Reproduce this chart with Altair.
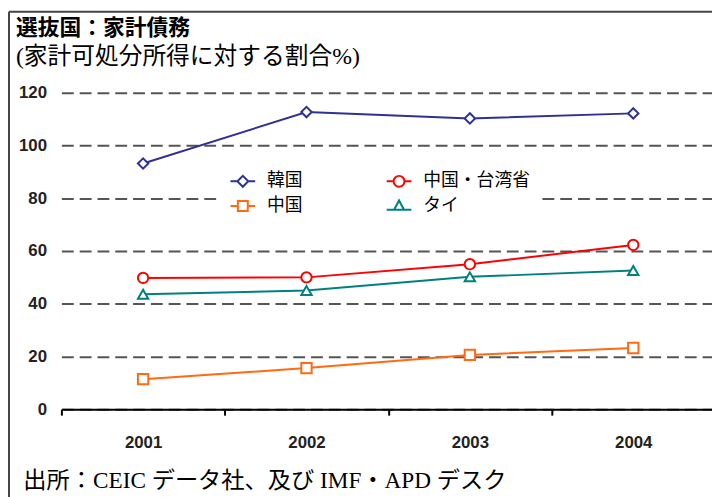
import altair as alt
import pandas as pd

years = ["2001", "2002", "2003", "2004"]
series_names = ["韓国", "中国・台湾省", "中国", "タイ"]
korea = [93.2, 112.7, 110.3, 112.2]
taiwan = [49.8, 50.0, 55.0, 62.3]
china = [11.4, 15.6, 20.6, 23.2]
thailand = [43.6, 45.0, 50.2, 52.6]
y_ticks = [0, 20, 40, 60, 80, 100, 120]

title_text = "選抜国：家計債務"
subtitle_text = "(家計可処分所得に対する割合%)"
source_text = "出所：CEIC データ社、及び IMF・APD デスク"

colors = ["#2E3192", "#FF0000", "#FF6A13", "#008080"]
marker_shapes = ["diamond", "circle", "square", "triangle-up"]
legend_paths = [
    "M-1,0H-0.44M0.44,0H1M-0.44,0L0,-0.44L0.44,0L0,0.44Z",
    "M-1,0H-0.44M0.44,0H1M-0.44,0A0.44,0.44,0,1,1,0.44,0A0.44,0.44,0,1,1,-0.44,0Z",
    "M-1,0H-0.4M0.4,0H1M-0.4,-0.4H0.4V0.4H-0.4Z",
    "M-1,0.3H-0.4M0.4,0.3H1M-0.4,0.3L0,-0.45L0.4,0.3Z",
]

rows = []
for name, vals in zip(series_names, [korea, taiwan, china, thailand]):
    for yr, v in zip(years, vals):
        rows.append({"year": yr, "series": name, "value": v})
df = pd.DataFrame(rows)

SERIF = "Liberation Serif, Noto Sans CJK JP"
SANS = "Noto Sans CJK JP"

x_enc = alt.X(
    "year:O",
    scale=alt.Scale(type="band", domain=years, range=[0, 661], paddingInner=0, paddingOuter=0),
    bandPosition=0.5,
    axis=alt.Axis(
        title=source_text, titleAnchor="start", titleAlign="left", titleX=-39, titleY=79,
        titleBaseline="alphabetic", titleFont=SERIF, titleFontSize=23.5, titleFontWeight="normal",
        titleColor="black", labelAngle=0, labelFont="Liberation Sans", labelFontSize=17,
        labelFontWeight="bold", labelColor="#222", labelPadding=20, tickBand="extent",
        tickSize=6, tickWidth=2, tickColor="black", domainColor="black", domainWidth=2, grid=False,
    ),
)
y_enc = alt.Y(
    "value:Q",
    scale=alt.Scale(domain=[0, 120], nice=False),
    axis=alt.Axis(
        values=y_ticks, title=None, domain=False, ticks=False, labelPadding=15,
        labelFont="Liberation Sans", labelFontSize=17, labelFontWeight="bold", labelColor="#222",
        grid=True, gridColor="#555", gridWidth=2, gridDash=[12, 6],
    ),
)

def color_scale():
    return alt.Scale(domain=series_names, range=colors)

legend_cfg = alt.Legend(
    title=None, orient="none", legendX=160, legendY=66, columns=2, direction="horizontal",
    columnPadding=81, rowPadding=2, symbolSize=625, symbolStrokeWidth=2, labelFont=SANS,
    labelFontSize=18, labelColor="black", labelOffset=11, fillColor="white", padding=10,
    labelLimit=300, symbolOpacity=1,
)

base = alt.Chart(df)
lines = base.mark_line(strokeWidth=2).encode(
    x=x_enc, y=y_enc, color=alt.Color("series:N", scale=color_scale(), legend=None)
)
points = base.mark_point(filled=False, fill="white", opacity=1, strokeWidth=2, size=110).encode(
    x=x_enc, y=y_enc,
    color=alt.Color("series:N", scale=color_scale(), legend=None),
    shape=alt.Shape("series:N", scale=alt.Scale(domain=series_names, range=marker_shapes), legend=None),
)
legend_layer = base.transform_filter("datum.value < 0").mark_point(
    filled=False, opacity=1, strokeWidth=2
).encode(
    x=x_enc, y=y_enc,
    color=alt.Color("series:N", scale=color_scale(), legend=legend_cfg),
    shape=alt.Shape("series:N", scale=alt.Scale(domain=series_names, range=legend_paths), legend=legend_cfg),
)

frame_data = alt.Data(values=[{"k": 1}])
frame_top = alt.Chart(frame_data).mark_rule(color="#444", strokeWidth=2).encode(
    x=alt.value(-53), x2=alt.value(720), y=alt.value(-82), y2=alt.value(-82)
)
frame_left = alt.Chart(frame_data).mark_rule(color="#444", strokeWidth=2).encode(
    x=alt.value(-53), x2=alt.value(-53), y=alt.value(-82), y2=alt.value(500)
)

chart = alt.layer(frame_top, frame_left, lines, points, legend_layer).resolve_scale(
    shape="independent", color="independent"
).properties(
    width=653, height=320,
    padding={"left": 54, "top": 83, "right": 5, "bottom": 86},
    autosize=alt.AutoSizeParams(type="none"),
    title=alt.TitleParams(
        text=title_text, subtitle=subtitle_text, anchor="start", frame="group", dx=-46, dy=64,
        font=SANS, fontSize=22, fontWeight="bold", color="black",
        subtitleFont=SERIF, subtitleFontSize=24, subtitleColor="black", subtitlePadding=5,
    ),
).configure_view(stroke=None)

chart.save("out.html", embed_options={"renderer": "svg", "actions": False})
